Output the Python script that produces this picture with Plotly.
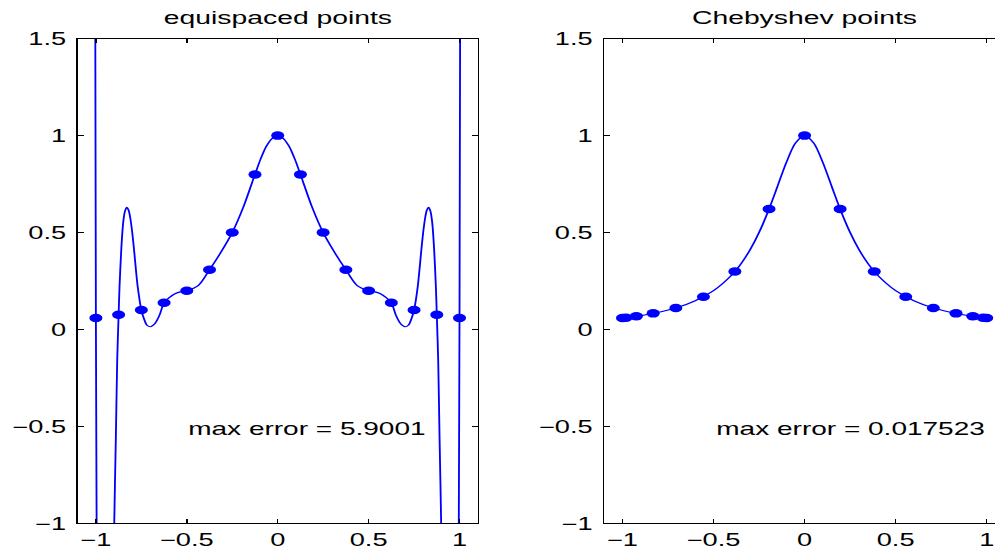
import plotly.graph_objects as go
from plotly.subplots import make_subplots

# ---- data ----
equi_x = [-1.0, -0.875, -0.75, -0.625, -0.5, -0.375, -0.25, -0.125, 0.0,
          0.125, 0.25, 0.375, 0.5, 0.625, 0.75, 0.875, 1.0]
equi_y = [0.0588, 0.0755, 0.100, 0.138, 0.200, 0.308, 0.500, 0.800, 1.000,
          0.800, 0.500, 0.308, 0.200, 0.138, 0.100, 0.0755, 0.0588]

equi_curve_x = [-1.01, -1.005, -1.0, -0.996, -0.993, -0.985, -0.975, -0.965, -0.955, -0.94,
                -0.925, -0.91, -0.899, -0.89, -0.8828, -0.875, -0.87, -0.86, -0.85, -0.84,
                -0.83, -0.82, -0.81, -0.80, -0.79, -0.78, -0.77, -0.75, -0.735, -0.72,
                -0.70, -0.675, -0.65, -0.625, -0.595, -0.5625, -0.53, -0.5, -0.4375, -0.375,
                -0.3125, -0.25, -0.1875, -0.125, -0.09375, -0.0625, -0.03125, 0.0,
                0.03125, 0.0625, 0.09375, 0.125, 0.1875, 0.25, 0.3125, 0.375, 0.4375,
                0.5, 0.53, 0.5625, 0.595, 0.625, 0.65, 0.675, 0.70, 0.72, 0.735, 0.75,
                0.77, 0.78, 0.79, 0.80, 0.81, 0.82, 0.83, 0.84, 0.85, 0.86, 0.87, 0.875,
                0.8828, 0.89, 0.899, 0.91, 0.925, 0.94, 0.955, 0.965, 0.975, 0.985,
                0.993, 0.996, 1.0, 1.005, 1.01]
equi_curve_y = [6.0, 2.5, 0.0588, -1.0, -2.2, -4.2, -5.5, -5.84, -5.4, -4.3,
                -3.0, -1.8, -1.0, -0.55, -0.16, 0.0755, 0.22, 0.42, 0.55, 0.61,
                0.63, 0.615, 0.57, 0.50, 0.41, 0.31, 0.22, 0.100, 0.054, 0.023,
                0.014, 0.031, 0.074, 0.138, 0.165, 0.186, 0.195, 0.200, 0.226, 0.308,
                0.398, 0.500, 0.635, 0.800, 0.880, 0.945, 0.985, 1.000,
                0.985, 0.945, 0.880, 0.800, 0.635, 0.500, 0.398, 0.308, 0.226,
                0.200, 0.195, 0.186, 0.165, 0.138, 0.074, 0.031, 0.014, 0.023, 0.054, 0.100,
                0.22, 0.31, 0.41, 0.50, 0.57, 0.615, 0.63, 0.61, 0.55, 0.42, 0.22, 0.0755,
                -0.16, -0.55, -1.0, -1.8, -3.0, -4.3, -5.4, -5.84, -5.5, -4.2,
                -2.2, -1.0, 0.0588, 2.5, 6.0]

cheb_x = [-1.0, -0.9808, -0.9239, -0.8315, -0.7071, -0.5556, -0.3827, -0.1951, 0.0,
          0.1951, 0.3827, 0.5556, 0.7071, 0.8315, 0.9239, 0.9808, 1.0]
cheb_y = [0.0588, 0.0610, 0.0682, 0.0830, 0.1111, 0.1684, 0.2992, 0.6216, 1.000,
          0.6216, 0.2992, 0.1684, 0.1111, 0.0830, 0.0682, 0.0610, 0.0588]

cheb_curve_x = [-1.01, -1.0, -0.95, -0.9, -0.8, -0.7, -0.6, -0.5, -0.4, -0.35, -0.3,
                -0.25, -0.2, -0.15, -0.1, -0.05, 0.0, 0.05, 0.1, 0.15, 0.2, 0.25,
                0.3, 0.35, 0.4, 0.5, 0.6, 0.7, 0.8, 0.9, 0.95, 1.0, 1.01]
cheb_curve_y = [0.057, 0.0588, 0.065, 0.0716, 0.089, 0.113, 0.148, 0.200, 0.281, 0.338, 0.410,
                0.500, 0.610, 0.735, 0.862, 0.962, 1.000, 0.962, 0.862, 0.735, 0.610, 0.500,
                0.410, 0.338, 0.281, 0.200, 0.148, 0.113, 0.089, 0.0716, 0.065, 0.0588, 0.057]

titles = ["equispaced points", "Chebyshev points"]
error_texts = ["max error = 5.9001", "max error = 0.017523"]
x_ticks = [-1, -0.5, 0, 0.5, 1]
x_tick_labels = ["\u22121", "\u22120.5", "0", "0.5", "1"]
y_ticks = [-1, -0.5, 0, 0.5, 1, 1.5]
y_tick_labels = ["\u22121", "\u22120.5", "0", "0.5", "1", "1.5"]

# ---- figure ----
BLUE = "rgb(0,0,255)"
FONT = "Liberation Sans, Arial, Helvetica, sans-serif"
W, H = 650, 549
STRETCH = 995 / W

fig = make_subplots(rows=1, cols=2)

fig.add_trace(go.Scatter(x=equi_curve_x, y=equi_curve_y, mode="lines",
                         line=dict(color=BLUE, width=1.2, shape="spline", smoothing=0.8),
                         hoverinfo="skip"), row=1, col=1)
fig.add_trace(go.Scatter(x=equi_x, y=equi_y, mode="markers",
                         marker=dict(color=BLUE, size=8.5), cliponaxis=True), row=1, col=1)
fig.add_trace(go.Scatter(x=cheb_curve_x, y=cheb_curve_y, mode="lines",
                         line=dict(color=BLUE, width=1.2, shape="spline", smoothing=0.8),
                         hoverinfo="skip"), row=1, col=2)
fig.add_trace(go.Scatter(x=cheb_x, y=cheb_y, mode="markers",
                         marker=dict(color=BLUE, size=8.5), cliponaxis=True), row=1, col=2)

axis_common = dict(showline=True, linecolor="black", linewidth=1, showgrid=False,
                   zeroline=False, ticks="inside", ticklen=4, tickwidth=1, automargin=False,
                   tickcolor="black", tickfont=dict(family=FONT, size=17.8, color="black"))

fig.update_layout(
    template="none",
    width=W, height=H, autosize=False,
    margin=dict(l=0, r=0, t=0, b=0, pad=0),
    paper_bgcolor="white", plot_bgcolor="white", showlegend=False,
    font=dict(family=FONT, color="black"),
    xaxis=dict(domain=[0.0781, 0.4801], range=[-1.1, 1.1], tickvals=x_ticks,
               ticktext=x_tick_labels, mirror="ticks", **axis_common),
    yaxis=dict(domain=[0.0468, 0.9295], range=[-1, 1.5], tickvals=y_ticks,
               ticktext=y_tick_labels, mirror="ticks", ticklabelstandoff=3, **axis_common),
    xaxis2=dict(domain=[0.6073, 1.0], range=[-1.1, 1.0456], tickvals=x_ticks,
                ticktext=x_tick_labels, mirror="ticks", **axis_common),
    yaxis2=dict(domain=[0.0468, 0.9295], range=[-1, 1.5], tickvals=y_ticks,
                ticktext=y_tick_labels, mirror=False, ticklabelstandoff=3, **axis_common),
)

for i, (xr, yr) in enumerate([("x", "y"), ("x2", "y2")]):
    fig.add_annotation(x=0, xref=xr, y=1 - 17 / H, yref="paper", text=titles[i],
                       showarrow=False, xanchor="center", yanchor="middle",
                       font=dict(family=FONT, size=18.5, color="black"))
    fig.add_annotation(x=-0.505, xref=xr, y=-0.51, yref=yr, text=error_texts[i],
                       showarrow=False, xanchor="left", yanchor="middle",
                       font=dict(family=FONT, size=18.3, color="black"))

post = ("var gd=document.getElementById('{plot_id}');"
        "document.body.style.margin='0';document.body.style.overflow='hidden';"
        "gd.style.transformOrigin='0 0';gd.style.transform='scaleX(%.5f)';" % STRETCH)

fig.write_html("out.html", post_script=post, config={"displayModeBar": False})
